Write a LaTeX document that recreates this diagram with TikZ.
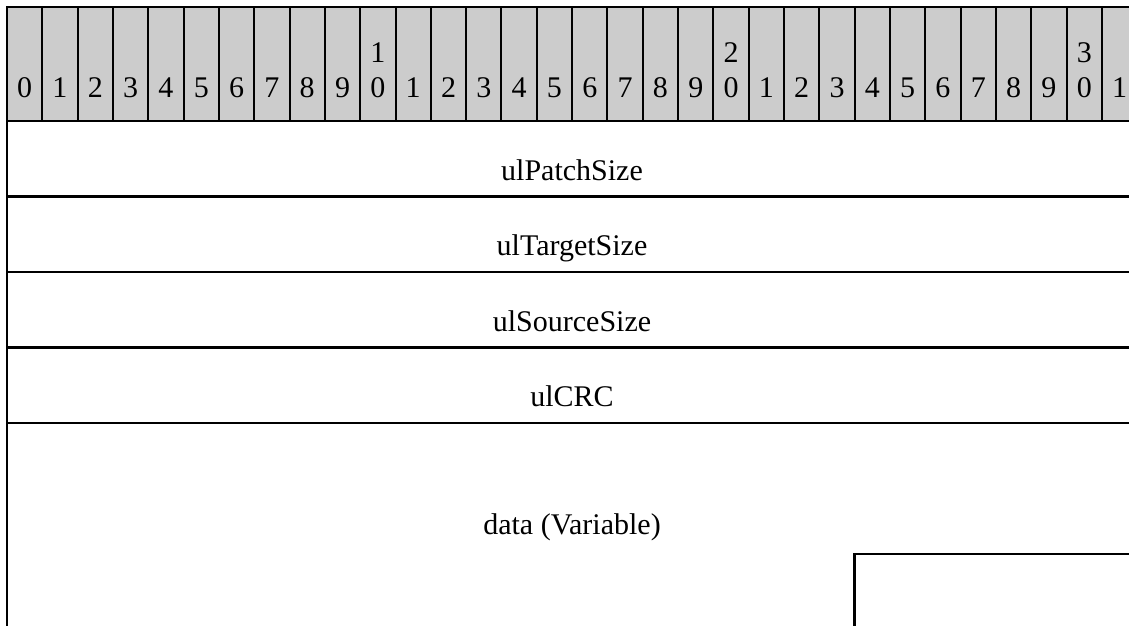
\documentclass[tikz,border=0pt]{standalone}
\usepackage{fontspec}
\setmainfont{Liberation Serif}
\usepackage{tikz}

\begin{document}
\begin{tikzpicture}[x=1pt,y=-1pt,line cap=rect]
          \tikzstyle{bitnum}=[anchor=south,inner sep=0pt,align=center,font=\fontsize{30}{35}\selectfont]
          \tikzstyle{field}=[anchor=base,inner sep=0pt,font=\fontsize{30}{35}\selectfont]
          \tikzstyle{rule}=[line width=2.6pt,black]
          \tikzstyle{divider}=[line width=2pt,black]
          \definecolor{hdrgray}{RGB}{204,204,204}
          \useasboundingbox (0,0) rectangle (1129,625);
          \clip (0,0) rectangle (1129,625);

          % header with the bit numbers
          \fill[hdrgray] (7,7) rectangle (1137,121);
          \foreach \i in {1,...,31}
            \draw[divider] ({7+35.32*\i},7) -- ({7+35.32*\i},121);
          \foreach \i in {0,...,31}{
            \pgfmathtruncatemacro{\lo}{mod(\i,10)}
            \pgfmathtruncatemacro{\hi}{div(\i,10)}
            \ifnum\lo=0 \ifnum\hi>0 \def\lbl{\hi\\\lo}\else\def\lbl{\lo}\fi\else\def\lbl{\lo}\fi
            \node[bitnum] (b\i) at ({7+35.32*(\i+0.5)},98) {\lbl};
          }

          % rows
          \draw[rule] (7,7) -- (1137,7);
          \draw[rule] (7,7) -- (7,640);
          \foreach \y in {121,196.5,272,347.5,423}
            \draw[rule] (7,\y) -- (1137,\y);
          \draw[rule] (1137,554) -| (854.7,640);

          \node[field] (patch)  at (572,180)   {ulPatchSize};
          \node[field] (target) at (572,255.5) {ulTargetSize};
          \node[field] (source) at (572,331)   {ulSourceSize};
          \node[field] (crc)    at (572,406.5) {ulCRC};
          \node[field] (data)   at (572,534)   {data (Variable)};

        \end{tikzpicture}
\end{document}
